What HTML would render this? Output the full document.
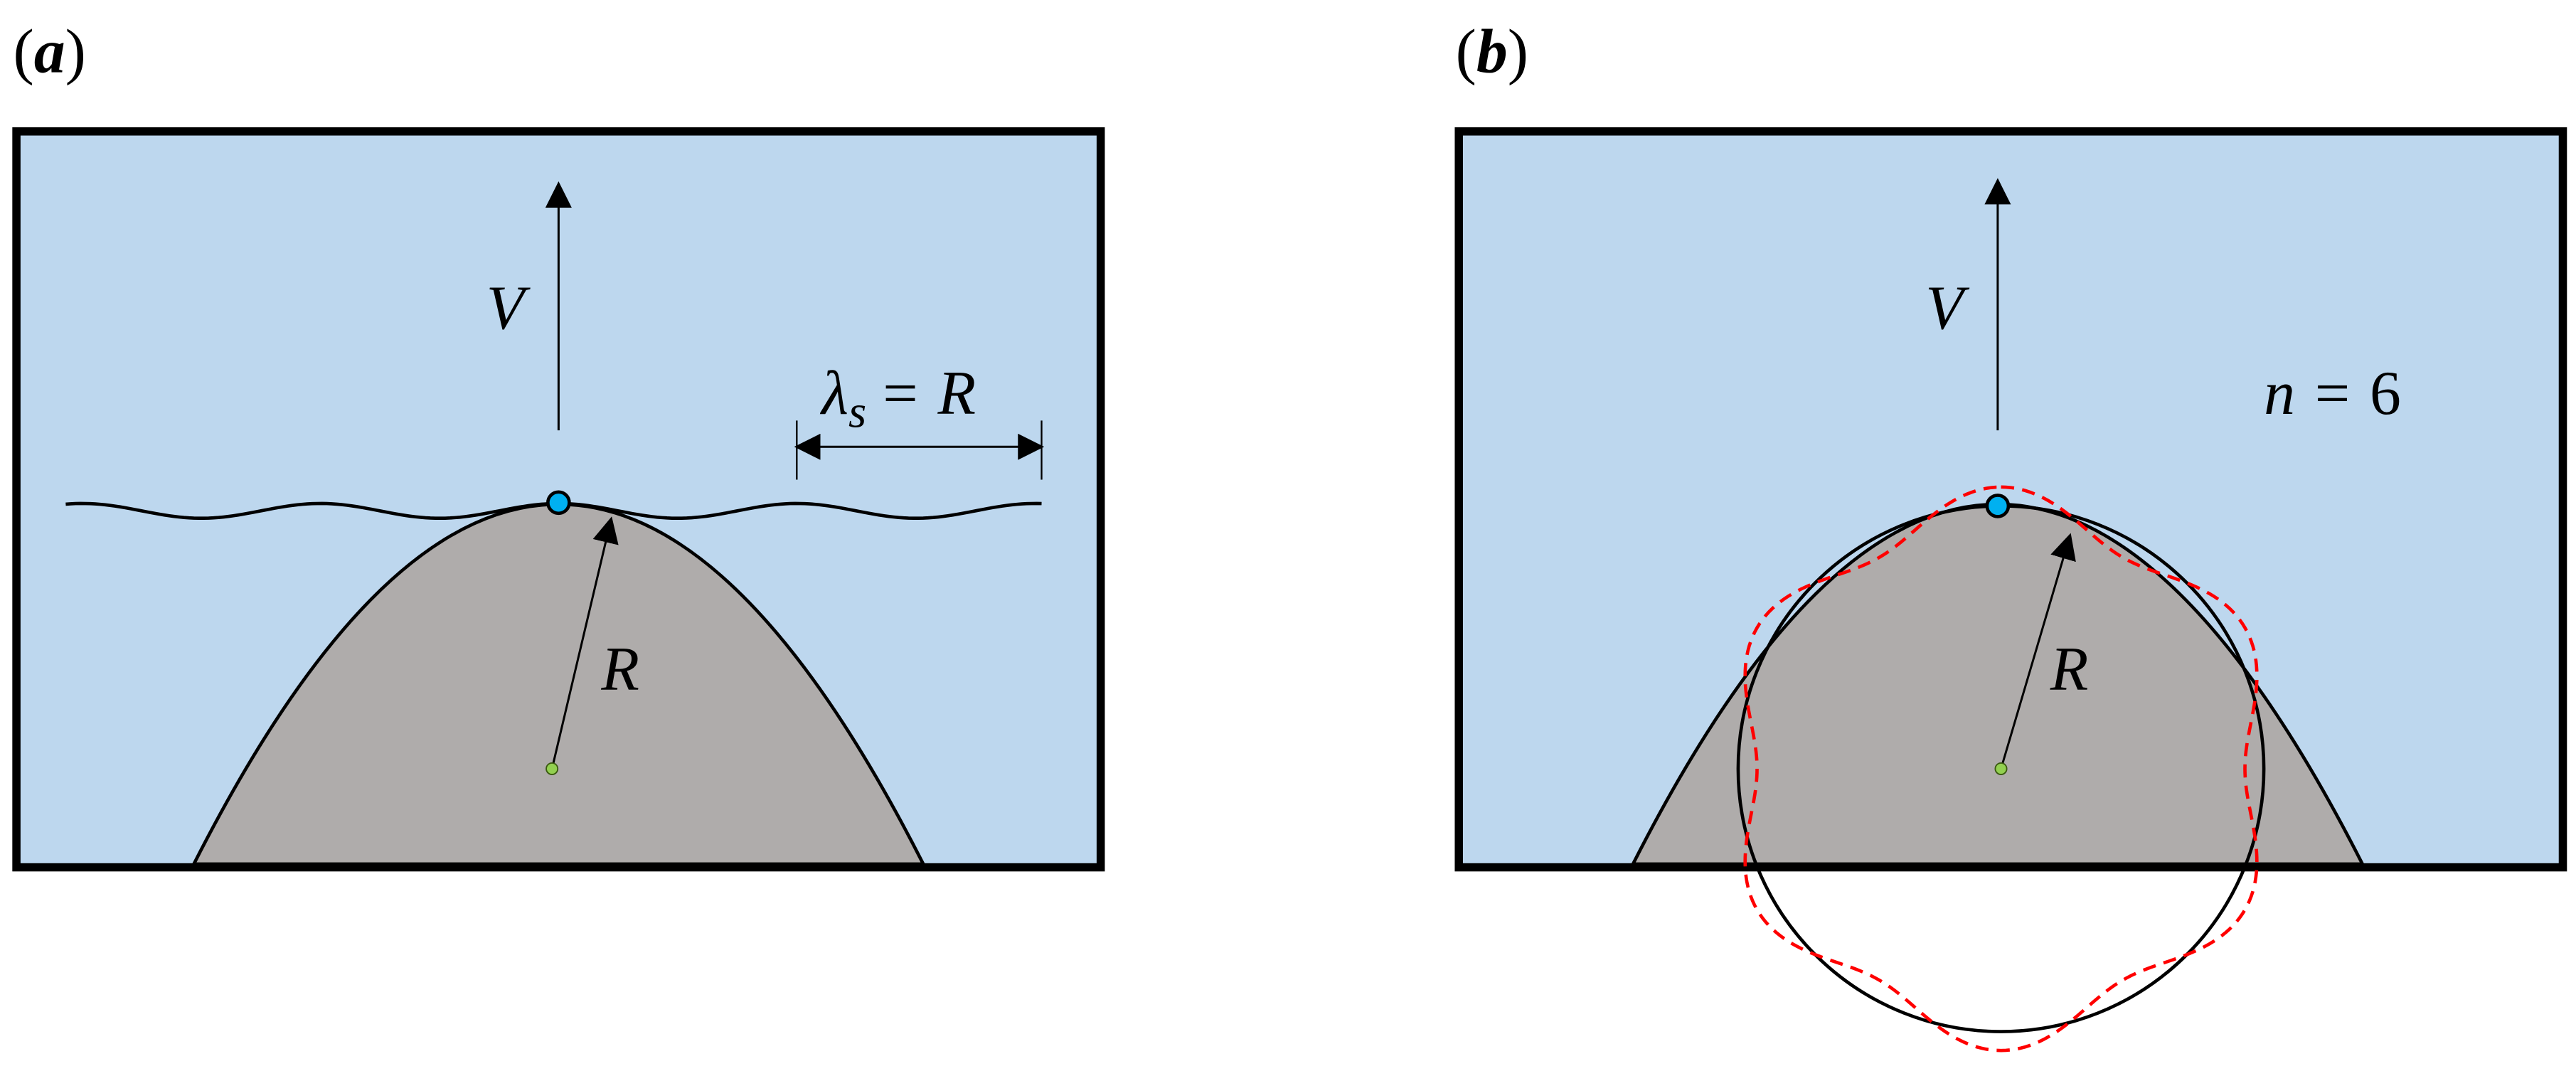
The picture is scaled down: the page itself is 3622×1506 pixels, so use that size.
<!DOCTYPE html>
<html><head><meta charset="utf-8"><style>
html,body{margin:0;padding:0;background:#fff;}
svg{display:block;}
text{font-family:"Liberation Serif",serif;font-style:italic;fill:#000;}
</style></head><body>
<svg id="s" width="3622" height="1506" viewBox="0 0 1568 652" preserveAspectRatio="none" xmlns="http://www.w3.org/2000/svg">
<defs>
<marker id="ah2" viewBox="0 0 10 10" refX="9" refY="5" markerWidth="16" markerHeight="16" markerUnits="userSpaceOnUse" orient="auto-start-reverse">
<path d="M0,0 L10,5 L0,10 z" fill="#000"/></marker>
<clipPath id="ca"><rect x="10" y="80" width="660" height="448"/></clipPath>
<clipPath id="cb"><rect x="888" y="80" width="672" height="448"/></clipPath>
</defs>
<!-- panel a -->
<text x="8" y="44" font-size="38" style="font-style:normal">(<tspan font-weight="bold" font-style="italic">a</tspan>)</text>
<rect x="10" y="80" width="660" height="448" fill="#BDD7EE"/>
<path d="M118,526 Q340,88 562,526 Z" fill="#AFACAB" stroke="#000" stroke-width="2" clip-path="url(#ca)"/>
<path id="wave" d="" fill="none" stroke="#000" stroke-width="2"/>
<rect x="10" y="80" width="660" height="448" fill="none" stroke="#000" stroke-width="5"/>
<line x1="340" y1="262" x2="340" y2="112" stroke="#000" stroke-width="1.3" marker-end="url(#ah2)"/>
<text x="296" y="200" font-size="38">V</text>
<line x1="336" y1="468" x2="372" y2="316" stroke="#000" stroke-width="1.3" marker-end="url(#ah2)"/>
<text x="366" y="420" font-size="38">R</text>
<circle cx="336" cy="468" r="3.5" fill="#92D050" stroke="#3a5a10" stroke-width="0.8"/>
<circle cx="340" cy="306" r="6.5" fill="#00B0F0" stroke="#000" stroke-width="2"/>
<text x="500" y="252" font-size="38">λ<tspan font-size="28" dy="8">s</tspan><tspan dy="-8" style="font-style:normal" dx="10">=</tspan><tspan dx="12">R</tspan></text>
<line x1="485" y1="256" x2="485" y2="292" stroke="#000" stroke-width="1"/>
<line x1="634" y1="256" x2="634" y2="292" stroke="#000" stroke-width="1"/>
<line x1="485" y1="272" x2="634" y2="272" stroke="#000" stroke-width="1.3" marker-start="url(#ah2)" marker-end="url(#ah2)"/>
<!-- panel b -->
<text x="886" y="44" font-size="38" style="font-style:normal">(<tspan font-weight="bold" font-style="italic">b</tspan>)</text>
<rect x="888" y="80" width="672" height="448" fill="#BDD7EE"/>
<path d="M994,526 Q1216,88 1438,526 Z" fill="#AFACAB" stroke="#000" stroke-width="2" clip-path="url(#cb)"/>
<rect x="888" y="80" width="672" height="448" fill="none" stroke="#000" stroke-width="5"/>
<circle cx="1218" cy="468" r="160" fill="none" stroke="#000" stroke-width="2"/>
<path id="red" d="" fill="none" stroke="#FF0000" stroke-width="2" stroke-dasharray="8,5"/>
<line x1="1216" y1="262" x2="1216" y2="110" stroke="#000" stroke-width="1.3" marker-end="url(#ah2)"/>
<text x="1172" y="200" font-size="38">V</text>
<text x="1378" y="252" font-size="38">n<tspan style="font-style:normal" dx="12">=</tspan><tspan style="font-style:normal" dx="12">6</tspan></text>
<line x1="1218" y1="468" x2="1260" y2="326" stroke="#000" stroke-width="1.3" marker-end="url(#ah2)"/>
<text x="1248" y="420" font-size="38">R</text>
<circle cx="1218" cy="468" r="3.5" fill="#92D050" stroke="#3a5a10" stroke-width="0.8"/>
<circle cx="1216" cy="308" r="6.5" fill="#00B0F0" stroke="#000" stroke-width="2"/>
</svg>
<script>
(function(){
var d="";for(var x=40;x<=634;x+=3){var y=311-4.5*Math.cos(2*Math.PI*(x-340)/145);d+=(x==40?"M":"L")+x+","+y.toFixed(2)+" ";}
document.getElementById("wave").setAttribute("d",d);
var r="";for(var i=0;i<=360;i++){var t=i*Math.PI/180;var rr=160*(1+0.072*Math.cos(6*t));var X=1218+rr*Math.sin(t),Y=468-rr*Math.cos(t);r+=(i?"L":"M")+X.toFixed(2)+","+Y.toFixed(2)+" ";}
document.getElementById("red").setAttribute("d",r+"Z");
})();
</script>
</body></html>
